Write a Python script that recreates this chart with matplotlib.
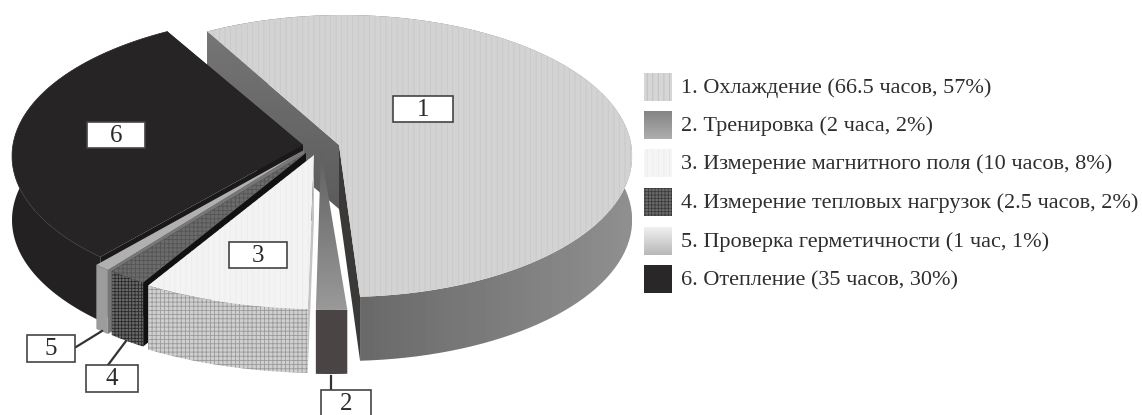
#!/usr/bin/env python3
"""Exploded pseudo-3D pie of cryostat cycle time, in pixel coordinates."""
import numpy as np
import matplotlib
matplotlib.use("Agg")
import matplotlib.pyplot as plt
from matplotlib.patches import Polygon, Rectangle

names = ["Охлаждение", "Тренировка", "Измерение магнитного поля",
         "Измерение тепловых нагрузок", "Проверка герметичности", "Отепление"]
hours = [66.5, 2, 10, 2.5, 1, 35]
hour_labels = ["66.5 часов", "2 часа", "10 часов", "2.5 часов", "1 час", "35 часов"]
percents = [57, 2, 8, 2, 1, 30]

W, H = 1142, 415
CX, CY, RX, RY = 339, 156, 293, 141
DEPTH = 64
START = 118

# layout of the exploded slices
rim_off = [(4, 0), (-9, 13), (-16, 12), (-34, 9), (-38, 8), (-34, 0)]
rx_scale = [0.987, 1, 1.08, 1, 1, 1]
apexes = [(339, 145), (321, 152), (314, 155), (306, 153), (304, 150), (303, 145)]
draw_order = [0, 5, 4, 3, 2, 1]

plt.rcParams["font.family"] = ["Liberation Serif", "DejaVu Serif"]
plt.rcParams["hatch.linewidth"] = 0.6

fig = plt.figure(figsize=(W / 100, H / 100), dpi=100)
ax = fig.add_axes([0, 0, 1, 1])
ax.set_xlim(0, W)
ax.set_ylim(H, 0)
ax.axis("off")


def gradient(pts, c0, c1, vertical=True, z=1):
    """Fill a polygon with a linear grey gradient (c0 top/left, c1 bottom/right)."""
    pts = np.asarray(pts)
    patch = Polygon(pts, closed=True, fc="none", ec="none", zorder=z)
    ax.add_patch(patch)
    ramp = np.linspace(c0, c1, 64)
    img = ramp[:, None] if vertical else ramp[None, :]
    im = ax.imshow(img, cmap="gray", vmin=0, vmax=1, aspect="auto", zorder=z,
                   extent=(pts[:, 0].min(), pts[:, 0].max(), pts[:, 1].max(), pts[:, 1].min()))
    im.set_clip_path(patch)


def flat(pts, fc, hatch=None, hc=None, z=1):
    ax.add_patch(Polygon(pts, closed=True, fc=fc, ec=hc if hatch else "none",
                         hatch=hatch, lw=0, zorder=z))


def rim(i, t0, t1):
    t = np.radians(np.linspace(t0, t1, 90))
    dx, dy = rim_off[i]
    return np.column_stack([CX + dx + RX * rx_scale[i] * np.cos(t), CY + dy - RY * np.sin(t)])


def down(pts):
    return np.asarray(pts) + [0, DEPTH]


sweeps = np.array(hours) / sum(hours) * 360
ends = START - np.cumsum(sweeps)
starts = np.concatenate([[START], ends[:-1]])
ax.set_autoscale_on(False)

z = 1
for i in draw_order:
    arc = rim(i, starts[i], ends[i])
    apex = np.array(apexes[i], dtype=float)
    # arc runs clockwise, so for the lower slices "near" is the edge on the right
    near = np.array([apex, arc[0], down(arc[0]), down(apex)])
    far = np.array([apex, arc[-1], down(arc[-1]), down(apex)])
    side = np.vstack([arc, down(arc)[::-1]])
    top = np.vstack([[apex], arc])

    if i == 0:
        gradient(side, 0.33, 0.56, vertical=False, z=z)
        gradient(near, 0.46, 0.36, z=z + 1)
        flat(far, "#3b3838", z=z + 1)
        flat(top, "#d3d3d3", "|||", "#c9c9c9", z=z + 3)
    elif i == 1:
        flat(side, "#4a4444", z=z)
        gradient(top, 0.38, 0.60, z=z + 1)
    elif i == 2:
        flat(far, "#1a1a1a", z=z)
        flat(near, "#c4c4c4", z=z)
        flat(side, "#d0d0d0", "++++", "#9a9a9a", z=z + 1)
        flat(top, "#f3f3f3", "|||", "#ececec", z=z + 2)
    elif i == 3:
        flat(far, "#222222", z=z)
        flat(near, "#111111", z=z)
        flat(side, "#6a6a6a", "+++++", "#2a2a2a", z=z + 1)
        flat(top, "#6b6b6b", "++++", "#555555", z=z + 2)
    elif i == 4:
        flat(near, "#777777", z=z)
        flat(side, "#9c9c9c", z=z + 1)
        flat(top, "#b0b0b0", z=z + 2)
    else:
        flat(near, "#1a1818", z=z)
        flat(far, "#1a1818", z=z)
        flat(side, "#242122", z=z + 1)
        flat(top, "#272425", z=z + 2)
        ax.plot(arc[:, 0], arc[:, 1], color="#3a3838", lw=0.5, zorder=z + 3)
    z += 5

# numbered callouts
callouts = [("1", 393, 96, 60, 26), ("6", 87, 122, 58, 26), ("3", 229, 242, 58, 26),
            ("5", 27, 335, 48, 27), ("4", 86, 365, 52, 27), ("2", 321, 390, 50, 27)]
leaders = [((76, 347), (102, 331)), ((108, 365), (126, 341)), ((331, 376), (331, 390))]
for a, b in leaders:
    ax.plot([a[0], b[0]], [a[1], b[1]], color="#333333", lw=1.6, zorder=60)
for txt, x, y, w, h in callouts:
    ax.add_patch(Rectangle((x, y), w, h, fc="white", ec="#444444", lw=1.2, zorder=61))
    ax.text(x + w / 2, y + h / 2 + 0.5, txt, fontsize=18, color="#2b2b2b",
            ha="center", va="center", zorder=62)

# legend
legend_y = [87, 125, 163, 202, 241, 279]
for i, ly in enumerate(legend_y):
    box = [(644, ly - 14), (672, ly - 14), (672, ly + 14), (644, ly + 14)]
    if i == 0:
        flat(box, "#d6d6d6", "|||", "#bdbdbd", z=70)
    elif i == 1:
        gradient(box, 0.52, 0.68, z=70)
    elif i == 2:
        flat(box, "#f5f5f5", "|||", "#ececec", z=70)
    elif i == 3:
        flat(box, "#6b6b6b", "+++++", "#3c3c3c", z=70)
    elif i == 4:
        gradient(box, 0.94, 0.72, z=70)
    else:
        flat(box, "#2a2728", z=70)
    label = f"{i + 1}. {names[i]} ({hour_labels[i]}, {percents[i]}%)"
    ax.text(681, ly + 1.5, label, fontsize=16, color="#2e2e2e", ha="left", va="center", zorder=71)

fig.savefig("out.png", dpi=100)
